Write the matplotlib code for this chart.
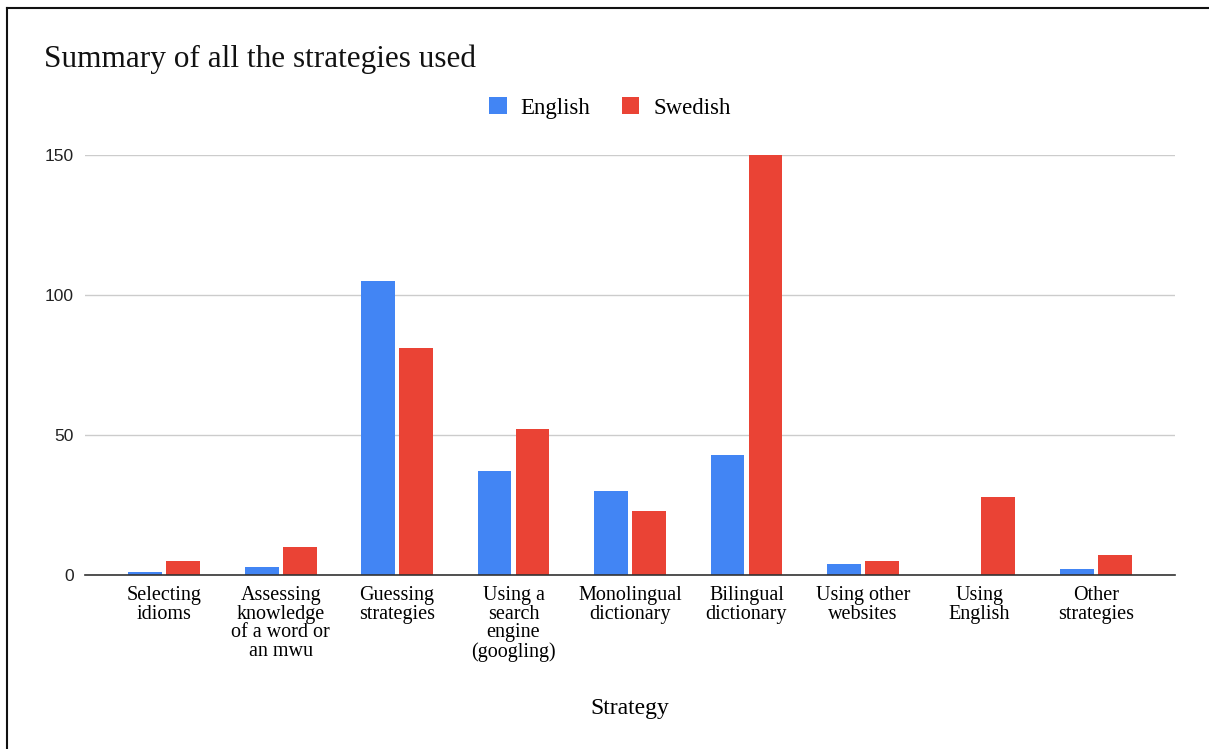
import numpy as np
import matplotlib
matplotlib.use("Agg")
import matplotlib.pyplot as plt
from matplotlib.lines import Line2D

categories = ["Selecting\nidioms", "Assessing\nknowledge\nof a word or\nan mwu", "Guessing\nstrategies",
              "Using a\nsearch\nengine\n(googling)", "Monolingual\ndictionary", "Bilingual\ndictionary",
              "Using other\nwebsites", "Using\nEnglish", "Other\nstrategies"]
english = [1, 3, 105, 37, 30, 43, 4, 0, 2]
swedish = [5, 10, 81, 52, 23, 150, 5, 28, 7]
yticks = [0, 50, 100, 150]

serif = "Liberation Serif"
sans = "Liberation Sans"
W, H = 1209, 749

fig = plt.figure(figsize=(W / 100, H / 100), dpi=100)
ax = fig.add_axes([85 / W, 1 - 575 / H, 1090 / W, 420 / H])

x = np.arange(len(categories))
w = 0.29
off = 0.163
ax.bar(x - off, english, w, color="#4285F4", label="English", zorder=3)
ax.bar(x + off, swedish, w, color="#EA4335", label="Swedish", zorder=3)

ax.set_xlim(-0.68, 8.68)
ax.set_ylim(0, 150)
ax.set_yticks(yticks)
ax.set_yticklabels([str(t) for t in yticks], fontfamily=sans, fontsize=12.5, color="#222222")
ax.set_xticks(x)
ax.set_xticklabels(categories, fontfamily=serif, fontsize=14.5, linespacing=0.97, va="top")
ax.tick_params(axis="both", length=0)
ax.tick_params(axis="y", pad=8)
ax.tick_params(axis="x", pad=8)
ax.grid(axis="y", color="#cccccc", linewidth=1, zorder=0)
for s in ["top", "right", "left"]:
    ax.spines[s].set_visible(False)
ax.spines["bottom"].set_color("#333333")
ax.spines["bottom"].set_linewidth(1.2)
ax.spines["bottom"].set_zorder(4)

ax.set_xlabel("Strategy", fontfamily=serif, fontsize=17, labelpad=26)

fig.text(44 / W, 1 - 59 / H, "Summary of all the strategies used", fontfamily=serif,
         fontsize=22.5, va="center", ha="left", color="#111111")
fig.legend(loc="center", bbox_to_anchor=(610 / W, 1 - 108 / H), ncol=2, frameon=False,
           prop={"family": serif, "size": 16.5}, handlelength=0.75, handleheight=0.75,
           columnspacing=1.4, handletextpad=0.6)

# page border: top and left edges only
fig.add_artist(Line2D([7 / W, 1], [1 - 8 / H, 1 - 8 / H], transform=fig.transFigure,
                      color="#111111", linewidth=1.5))
fig.add_artist(Line2D([7 / W, 7 / W], [0, 1 - 8 / H], transform=fig.transFigure,
                      color="#111111", linewidth=1.5))

fig.savefig("out.png", dpi=100)
